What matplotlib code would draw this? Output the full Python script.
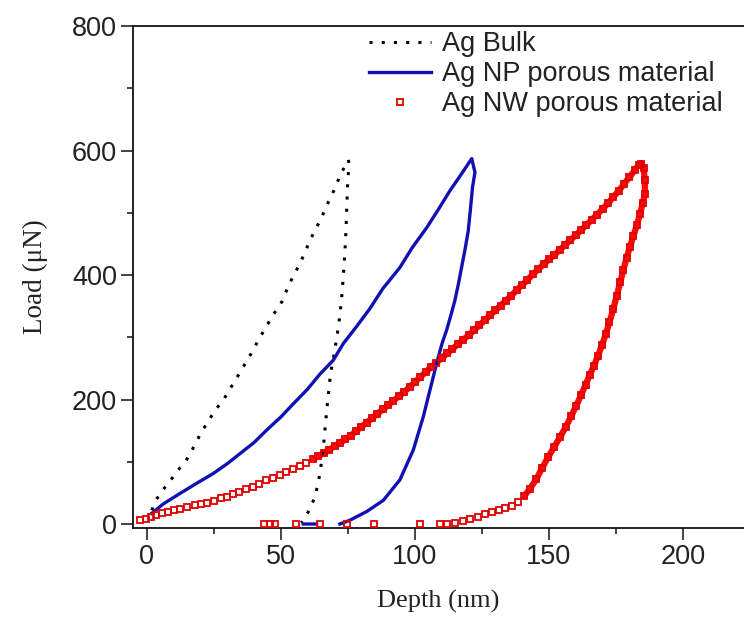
import numpy as np
import matplotlib
matplotlib.use("Agg")
import matplotlib.pyplot as plt
from matplotlib.ticker import MultipleLocator

# ---- Ag bulk: loading / unloading (depth nm, load uN)
bulk_load_depth = [1.8, 3.6, 6.0, 8.8, 11.5, 14.5, 17.0, 19.4, 22.5, 26.0, 28.2, 31.0,
                   33.7, 36.3, 38.9, 41.3, 43.8, 47.4, 50.5, 53.0, 55.5, 58.1, 61.2,
                   64.8, 67.9, 69.7, 72.4, 74.3, 75.1]
bulk_load_force = [22, 40, 55, 70, 86, 101, 120, 140, 163, 186, 197, 217,
                   236, 255, 274, 293, 312, 338, 358, 385, 405, 428, 459,
                   489, 519, 535, 563, 578, 585]
bulk_unload_depth = [75.3, 75.2, 74.9, 74.6, 74.3, 73.9, 73.4, 72.8, 72.0, 71.0, 69.8,
                     68.5, 67.5, 66.6, 65.8, 64.9, 64.0, 62.8, 61.2, 59.4, 57.6]
bulk_unload_force = [582, 566, 546, 514, 474, 440, 405, 370, 335, 304, 272,
                     241, 200, 160, 121, 92, 68, 45, 28, 13, 2]

# ---- Ag NP porous material
np_load_depth = [1.8, 6.0, 12.3, 18.0, 24.7, 30.0, 34.7, 40.0, 44.7, 50.0, 54.6, 60.0,
                 64.6, 69.5, 73.3, 78.0, 83.2, 88.0, 94.4, 99.0, 104.4, 109.0, 113.0,
                 117.0, 121.2]
np_load_force = [17, 32, 49, 64, 81, 97, 113, 131, 151, 172, 193, 217,
                 241, 263, 290, 316, 346, 378, 412, 444, 476, 507, 535,
                 560, 587]
np_unload_depth = [122.4, 121.5, 120.7, 119.9, 118.7, 117.4, 116.2, 114.9, 113.4, 111.8,
                   110.5, 110.0, 108.1, 105.6, 103.1, 99.4, 94.4, 88.2, 82.0, 75.7, 72.0]
np_unload_force = [565, 541, 505, 471, 441, 412, 385, 359, 335, 311,
                   295, 288, 258, 215, 172, 119, 71, 38, 20, 6, 0]
np_base_depth = [58.3, 63.3]
np_base_force = [0, 0]

# ---- Ag NW porous material
nw_load_depth = [-2.5, -0.5, 1.5, 3.5, 5.5, 8, 10, 12.5, 15, 18, 20, 22.5, 25, 27.5, 30,
                 32, 34.5, 37, 39.5, 42, 44.5, 47, 49.5, 52, 54.5, 57, 59.5, 62, 64, 66,
                 68, 70, 72, 74, 76, 78, 80, 82, 84, 86, 88, 90, 92, 94, 96, 98, 100,
                 102, 104, 106, 108, 110, 112, 114, 116, 118, 120, 122, 124, 126, 128,
                 130, 132, 134, 136, 138, 140, 142, 144, 146, 148, 150, 152, 154, 156,
                 158, 160, 162, 164, 166, 168, 170, 172, 174, 176, 178, 180, 182, 183.5]
nw_load_force = [6, 8, 11, 14, 17, 20, 22, 24, 27, 30, 32, 34, 37, 41, 44,
                 48, 52, 56, 60, 65, 70, 74, 78, 83, 88, 93, 98, 104, 109, 114,
                 119, 125, 130, 136, 142, 149, 156, 163, 170, 177, 184, 191, 198, 205,
                 212, 220, 228, 236, 244, 252, 259, 267, 274, 281, 289, 296, 303, 311,
                 319, 327, 335, 343, 351, 359, 367, 376, 384, 392, 401, 409, 417, 425,
                 432, 440, 448, 456, 464, 472, 480, 489, 497, 506, 515, 525, 535, 546,
                 557, 568, 577]
nw_hold_depth = [184.5, 185.3, 185.8, 185.8]
nw_hold_force = [579, 572, 553, 530]
nw_unload_depth = [185.0, 184.0, 182.8, 181.5, 180.2, 179.0, 177.8, 176.6, 175.3, 174.0,
                   172.6, 171.2, 169.8, 168.3, 166.8, 165.3, 163.7, 162.0, 160.2, 158.3,
                   156.3, 154.2, 152.0, 149.8, 147.5, 145.3, 143.0, 140.8, 138.5, 136.2,
                   133.8, 131.4, 128.8, 126.2, 123.5, 120.7, 118.0, 115.0, 112.0, 109.3]
nw_unload_force = [515, 498, 480, 462, 445, 428, 408, 388, 366, 345,
                   324, 305, 287, 270, 254, 240, 224, 207, 190, 173,
                   156, 140, 124, 108, 90, 72, 57, 45, 35, 29,
                   26, 23, 20, 16, 12, 8, 5, 2, 0, 0]
nw_zero_depth = [43.8, 45.8, 47.7, 55.7, 64.5, 74.5, 84.7, 101.9]
nw_zero_force = [0, 0, 0, 0, 0, 0, 0, 0]

BLUE = "#1010b4"
RED = "#ff0a0a"
TXT = "#222222"
SANS = "Liberation Sans"
SERIF = "Liberation Serif"

fig = plt.figure(figsize=(7.44, 6.2), dpi=100)
ax = fig.add_axes([133 / 744, 1 - 528 / 620, 1 - 133 / 744, (528 - 26) / 620])

# Ag bulk: dotted trace
bx = bulk_load_depth + bulk_unload_depth
by = bulk_load_force + bulk_unload_force
ax.plot(bx, by, color="black", lw=2.2, ls=(0, (1, 3)), label="Ag Bulk", zorder=3)

# Ag NP: solid blue trace
nx = np_load_depth + np_unload_depth + [np.nan] + np_base_depth
ny = np_load_force + np_unload_force + [np.nan] + np_base_force
ax.plot(nx, ny, color=BLUE, lw=2.4, label="Ag NP porous material", zorder=4)

# Ag NW: open red squares; where samples crowd together they merge into a band
wx = np.array(nw_load_depth + nw_hold_depth + nw_unload_depth, dtype=float)
wy = np.array(nw_load_force + nw_hold_force + nw_unload_force, dtype=float)
n_load = len(nw_load_depth)
dense = np.zeros(len(wx), dtype=bool)
dense[:n_load] = wx[:n_load] >= 62
dense[n_load:] = wy[n_load:] >= 45
ax.plot(np.where(dense, wx, np.nan), wy, color=RED, lw=4.5, zorder=2,
        solid_capstyle="round")
ax.plot(np.concatenate([wx, nw_zero_depth]), np.concatenate([wy, nw_zero_force]),
        ls="none", marker="s", ms=5.0, mfc="none", mec="#e00000", mew=1.3, zorder=5,
        label="Ag NW porous material")

ax.set_xlim(-5.2, 222.8)
ax.set_ylim(-6.4, 800)
ax.xaxis.set_major_locator(MultipleLocator(50))
ax.xaxis.set_minor_locator(MultipleLocator(25))
ax.yaxis.set_major_locator(MultipleLocator(200))
ax.yaxis.set_minor_locator(MultipleLocator(100))

for side in ("left", "bottom", "top"):
    ax.spines[side].set_linewidth(1.3)
    ax.spines[side].set_color("#111111")
ax.spines["right"].set_visible(False)

ax.tick_params(which="major", direction="out", length=8.5, width=1.1, color="#111111",
               labelsize=19.5, labelcolor=TXT, pad=3)
ax.tick_params(which="minor", direction="out", length=4.5, width=1.1, color="#111111")
ax.tick_params(top=False, right=False, which="both")
for lab in ax.get_xticklabels() + ax.get_yticklabels():
    lab.set_family(SANS)

ax.set_xlabel("Depth (nm)", family=SERIF, fontsize=19, color=TXT, labelpad=14)
ax.set_ylabel("Load (\u03bcN)", family=SERIF, fontsize=19.5, color=TXT, labelpad=17)

leg = ax.legend(loc="upper left", bbox_to_anchor=(369 / 744, 0.950),
                bbox_transform=fig.transFigure, frameon=False,
                handlelength=2.3, handletextpad=0.4, labelspacing=0.15,
                borderpad=0, borderaxespad=0, numpoints=1,
                prop={"family": SANS, "size": 19.5})
for t in leg.get_texts():
    t.set_color(TXT)

fig.savefig("out.png", dpi=100)
